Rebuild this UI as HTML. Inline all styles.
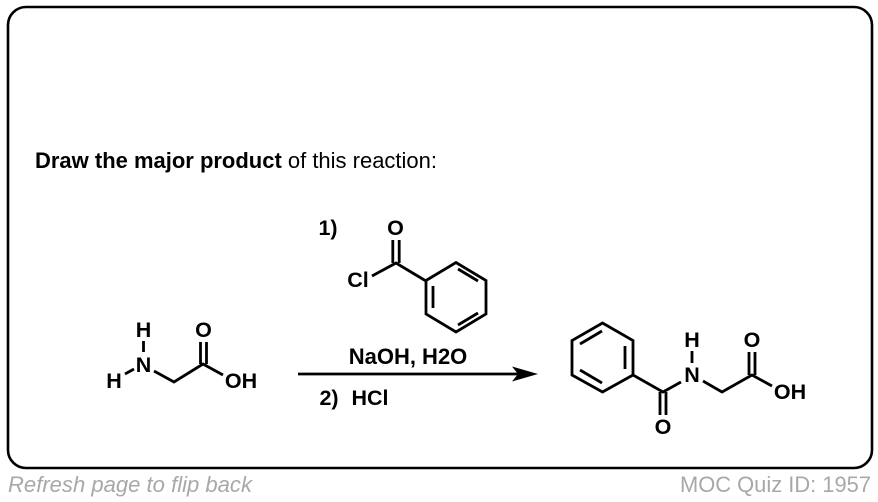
<!DOCTYPE html>
<html lang="en">
<head>
<meta charset="utf-8">
<title>MOC Quiz 1957</title>
<style>
html,body{margin:0;padding:0;background:#fff;width:878px;height:502px;overflow:hidden}
svg{display:block}
text{font-family:"Liberation Sans",Arial,sans-serif}
.b{font-weight:700;fill:#000;font-size:21.5px;text-anchor:middle}
.l{stroke:#000;stroke-width:2.8;fill:none;stroke-linecap:butt;stroke-linejoin:miter}
</style>
</head>
<body>
<svg width="878" height="502" viewBox="0 0 878 502" xmlns="http://www.w3.org/2000/svg">
<rect x="8" y="7" width="864" height="461" rx="18" ry="18" fill="#fff" stroke="#000" stroke-width="2.6"/>

<text x="35" y="168" font-size="22" textLength="402" lengthAdjust="spacingAndGlyphs" fill="#000"><tspan font-weight="700">Draw the major product</tspan> of this reaction:</text>

<!-- glycine -->
<path class="l" d="M143.500 341V352M125 374L134 369M154 371L174 382L203 364L223 375M200.500 342V364M206.500 342V364"/>
<text class="b" x="143.500" y="337">H</text>
<text class="b" x="143.500" y="372">N</text>
<text class="b" x="114" y="388">H</text>
<text class="b" x="203.500" y="337">O</text>
<text class="b" x="241" y="388">OH</text>

<!-- reagent 1 -->
<text class="b" x="328" y="235">1)</text>
<path class="l" d="M372 276L396 263L426 281M392.800 240V263M399.200 240V263"/>
<path class="l" d="M426 280.500L456 262.500L486 280.500V314L456 332L426 314Z"/>
<path class="l" d="M433 286V308M458 269L478 281M458 325L478 313"/>
<text class="b" x="395.500" y="235">O</text>
<text class="b" x="358" y="287">Cl</text>

<!-- arrow -->
<text class="b" x="408" y="364" style="font-size:22px">NaOH, H2O</text>
<path d="M298 372.600H520V375.400H298Z" fill="#000"/>
<path d="M538 374L512 366.500L518 374L512 381.500Z" fill="#000"/>
<text class="b" x="329" y="405">2)</text>
<text class="b" x="370" y="405">HCl</text>

<!-- product -->
<path class="l" d="M602.500 323L633 340.500V375L602.500 392L572 375V340.500Z"/>
<path class="l" d="M625 346V369M580 344L602 331M580 370L602 383"/>
<path class="l" d="M633 375L663 392L681 382M660 392V415M666 392V415M692 351V363M703 381L722 392L752 375L772 386M749 352V375M755 352V375"/>
<text class="b" x="692" y="347">H</text>
<text class="b" x="692" y="382">N</text>
<text class="b" x="663" y="434">O</text>
<text class="b" x="752" y="347">O</text>
<text class="b" x="790" y="399">OH</text>

<!-- footer -->
<text x="8" y="492" font-size="22" font-style="italic" fill="#a8a8a8" textLength="244" lengthAdjust="spacingAndGlyphs">Refresh page to flip back</text>
<text x="680" y="492" font-size="22" fill="#a8a8a8" textLength="191" lengthAdjust="spacingAndGlyphs">MOC Quiz ID: 1957</text>
</svg>
</body>
</html>
